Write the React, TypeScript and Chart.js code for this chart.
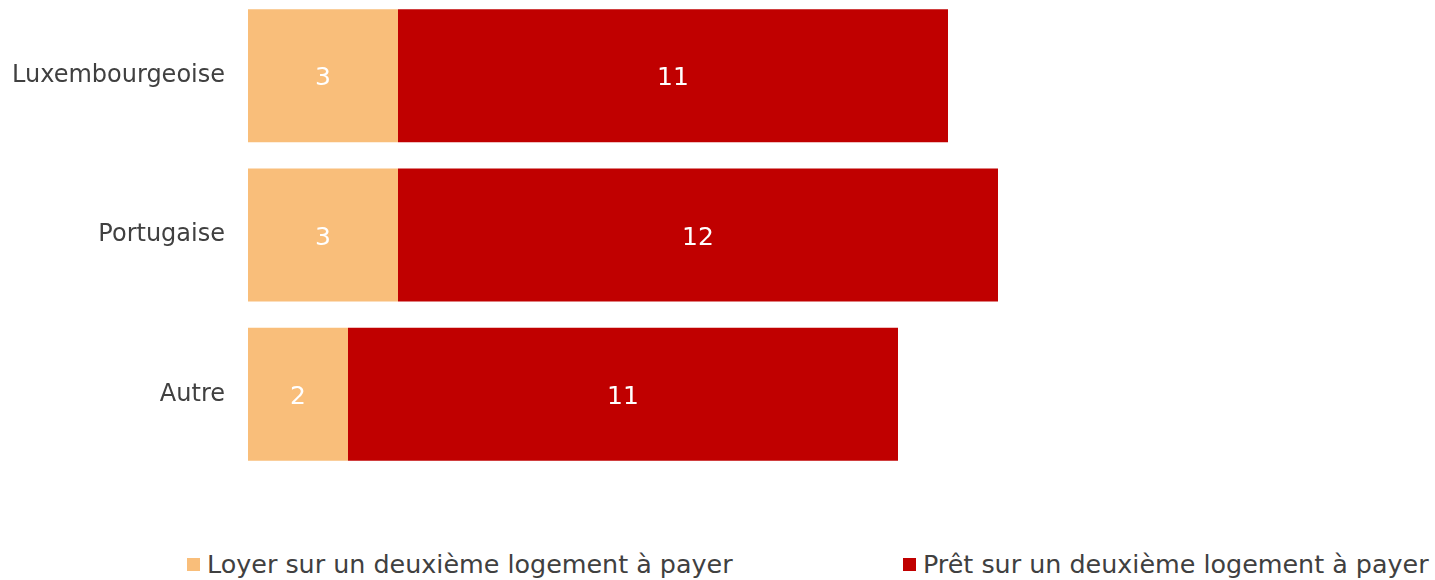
import React, { useEffect, useRef } from "react";
import { Chart, registerables } from "chart.js";

Chart.register(...registerables);

const categories = ["Luxembourgeoise", "Portugaise", "Autre"];
const loyerValues = [3, 3, 2];
const pretValues = [11, 12, 11];
const seriesNames = ["Loyer sur un deuxième logement à payer", "Prêt sur un deuxième logement à payer"];
const seriesColors = ["#F9BE7A", "#C00000"];

const FONT = "'DejaVu Sans', Verdana, sans-serif";

const valueLabels = {
  id: "valueLabels",
  afterDatasetsDraw(chart: any) {
    const ctx = chart.ctx;
    ctx.save();
    ctx.fillStyle = "#FFFFFF";
    ctx.font = `25px ${FONT}`;
    ctx.textAlign = "center";
    ctx.textBaseline = "middle";
    chart.data.datasets.forEach((ds: any, di: number) => {
      const meta = chart.getDatasetMeta(di);
      meta.data.forEach((bar: any, i: number) => {
        const cx = (bar.x + bar.base) / 2;
        ctx.fillText(String(ds.data[i]), cx, bar.y + 3);
      });
    });
    ctx.restore();
  },
};

export default function App() {
  const ref = useRef<HTMLCanvasElement | null>(null);
  useEffect(() => {
    if (!ref.current) return;
    const chart = new Chart(ref.current, {
      type: "bar",
      data: {
        labels: categories,
        datasets: [
          { label: seriesNames[0], data: loyerValues, backgroundColor: seriesColors[0] },
          { label: seriesNames[1], data: pretValues, backgroundColor: seriesColors[1] },
        ],
      },
      options: {
        indexAxis: "y",
        responsive: false,
        animation: false,
        maintainAspectRatio: false,
        layout: { padding: { top: 0, bottom: 0, left: 0, right: 187 } },
        datasets: { bar: { categoryPercentage: 1, barPercentage: 0.835 } } as any,
        plugins: { legend: { display: false }, tooltip: { enabled: false } },
        scales: {
          x: { stacked: true, min: 0, max: 20, display: false },
          y: {
            stacked: true,
            grid: { display: false },
            border: { display: false },
            ticks: { color: "#404040", font: { family: FONT, size: 24 }, padding: 15 },
            afterFit: (axis: any) => {
              axis.width = 248;
              axis.paddingTop = 0;
              axis.paddingBottom = 0;
            },
          },
        },
      },
      plugins: [valueLabels],
    });
    return () => chart.destroy();
  }, []);

  const legendItem = (i: number, left: number) => (
    <div
      key={i}
      style={{
        position: "absolute",
        left,
        top: 549,
        height: 30,
        display: "flex",
        alignItems: "center",
        fontFamily: FONT,
        fontSize: 25.4,
        color: "#404040",
        whiteSpace: "nowrap",
      }}
    >
      <span style={{ display: "inline-block", width: 13, height: 13, background: seriesColors[i], marginRight: 7 }} />
      <span>{seriesNames[i]}</span>
    </div>
  );

  return (
    <div style={{ position: "absolute", left: 0, top: 0, width: 1435, height: 580, background: "#fff", overflow: "hidden" }}>
      <canvas ref={ref} width={1435} height={478} style={{ position: "absolute", left: 0, top: -4 }} />
      {legendItem(0, 187)}
      {legendItem(1, 903)}
    </div>
  );
}
